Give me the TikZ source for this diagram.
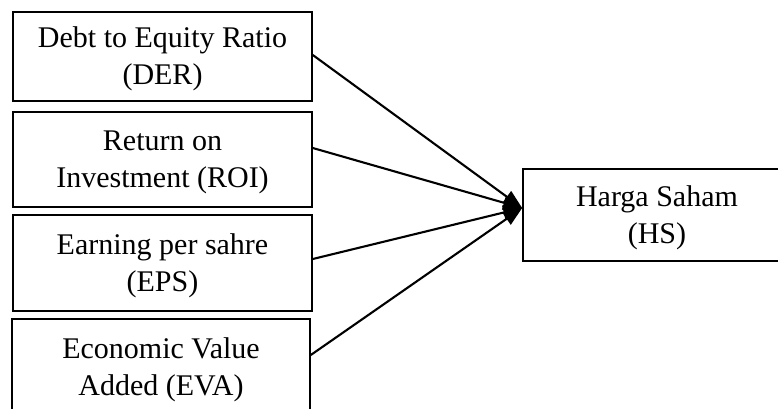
\documentclass[tikz,border=0pt]{standalone}
\usepackage{fontspec}
\setmainfont{Liberation Serif}
\usetikzlibrary{arrows.meta}
\tikzset{
  box/.style={draw=black, line width=1.6pt, inner sep=0pt, align=center,
    font=\fontsize{30}{37}\selectfont},
  conn/.style={line width=2.1pt, -{Triangle[length=19pt,width=14pt]}}
}
\begin{document}
\begin{tikzpicture}[x=1pt,y=-1pt]
\useasboundingbox (0,0) rectangle (778,409);
\clip (0,0) rectangle (778,409);
\node[box, minimum width=299pt, minimum height=89pt] (der) at (162.5,56.5) {\rule{0pt}{26pt}Debt to Equity Ratio\\(DER)};
\node[box, minimum width=299pt, minimum height=95pt] (roi) at (162.5,159.5) {\rule{0pt}{26pt}Return on\\Investment (ROI)};
\node[box, minimum width=299pt, minimum height=96pt] (eps) at (162.5,263) {\rule{0pt}{26pt}Earning per sahre\\(EPS)};
\node[box, minimum width=298pt, minimum height=96pt] (eva) at (161,367) {\rule{0pt}{26pt}Economic Value\\Added (EVA)};
\node[box, minimum width=268pt, minimum height=92pt] (hs) at (657,215) {\rule{0pt}{26pt}Harga Saham\\(HS)};
\coordinate (tip) at ([yshift=7pt]hs.west);
\draw[conn] ([yshift=1.5pt]der.east) -- (tip);
\draw[conn] ([yshift=11.5pt]roi.east) -- (tip);
\draw[conn] ([yshift=4pt]eps.east) -- (tip);
\draw[conn] ([yshift=12pt]eva.east) -- (tip);
\end{tikzpicture}
\end{document}
